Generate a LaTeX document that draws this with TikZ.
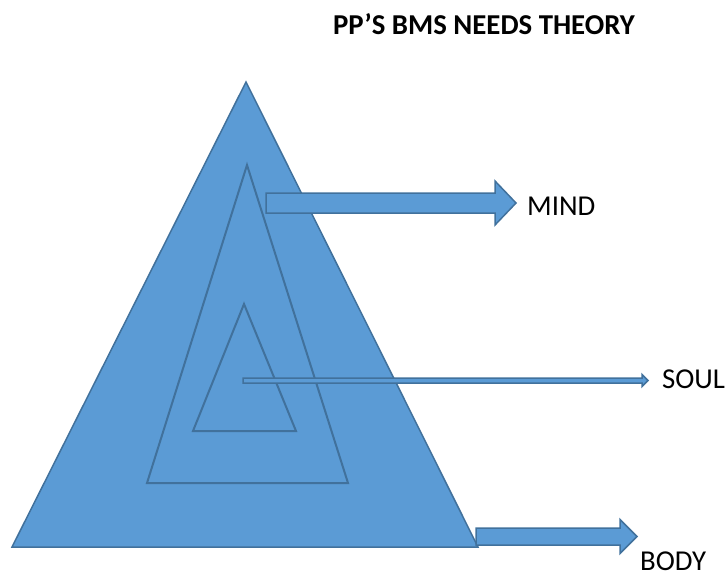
\documentclass[tikz,border=0pt]{standalone}
\usepackage{fontspec}
\setmainfont{Carlito}
\usepackage{tikz}
\definecolor{myBlue}{RGB}{91,155,213}
\definecolor{myEdge}{RGB}{65,113,156}
\newcommand{\labelsize}{\fontsize{28.8}{34}\selectfont}
% block arrow: start x, head base x, tip x, middle y, half shaft, half head
\newcommand{\blockarrow}[6]{%
  \path [solid] (#1,#4-#5) -- (#2,#4-#5) -- (#2,#4-#6) -- (#3,#4)
    -- (#2,#4+#6) -- (#2,#4+#5) -- (#1,#4+#5) -- cycle;}
\tikzset{
  x=1pt,y=-1pt,
  solid/.style={draw=myEdge,fill=myBlue,line width=1.5pt,line join=miter},
  inner/.style={solid,line width=2pt},
  tag/.style={font=\labelsize,anchor=base west,inner sep=0},
  heading/.style={font=\labelsize\bfseries,anchor=base,inner sep=0},
}
\begin{document}
\begin{tikzpicture}
  \useasboundingbox (0,0) rectangle (727,576);
  % triangles
  \coordinate (top) at (246,82);
  \coordinate (bl) at (12,547);
  \coordinate (br) at (478,547);
  \path [solid] (top) -- (br) -- (bl) -- cycle;
  \path [inner] (247,165) -- (348,483) -- (147,483) -- cycle;
  \path [inner] (244,304) -- (296,431) -- (193,431) -- cycle;
  % arrows
  \blockarrow{266}{495}{516}{203}{10}{22}
  \blockarrow{243}{642}{648}{380.5}{2.5}{6}
  \blockarrow{476}{620}{637}{536.5}{8.5}{17}
  % texts
  \node (head) [heading] at (484,34) {PP’S BMS NEEDS THEORY};
  \node (mind) [tag] at (527,215) {MIND};
  \node (soul) [tag] at (662,388) {SOUL};
  \node (body) [tag] at (640,570) {BODY};
\end{tikzpicture}
\end{document}
